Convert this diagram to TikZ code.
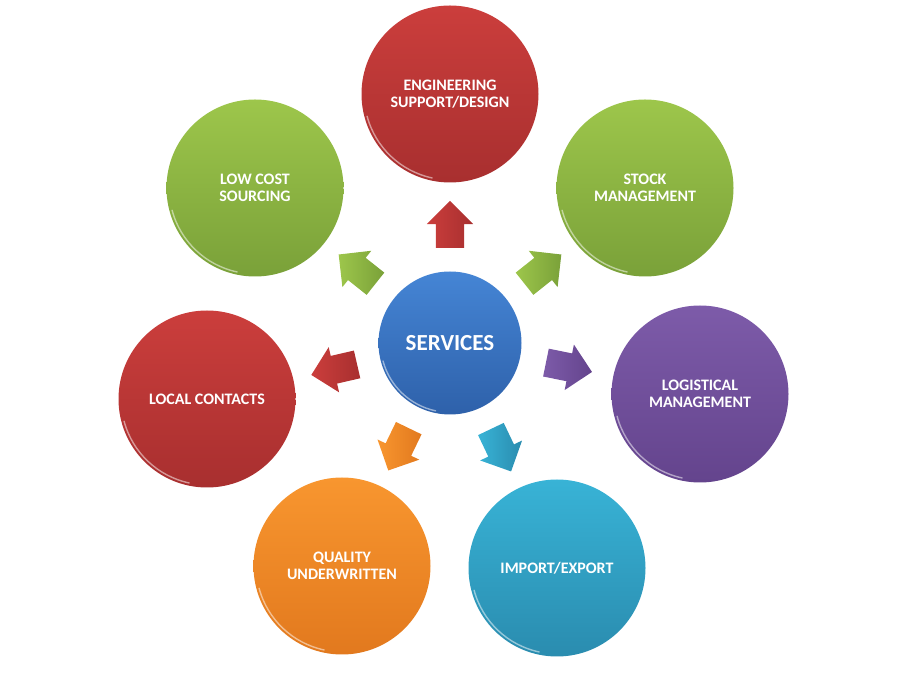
\documentclass[tikz,border=0pt]{standalone}
\usepackage{fontspec}
\setmainfont{Carlito}
\usetikzlibrary{shapes.arrows,calc}
\definecolor{redtop}{HTML}{CB3E3C}
\definecolor{redbot}{HTML}{A82F2F}
\definecolor{greentop}{HTML}{9DC64B}
\definecolor{greenbot}{HTML}{7AA139}
\definecolor{purptop}{HTML}{7D5BA9}
\definecolor{purpbot}{HTML}{64448D}
\definecolor{cyantop}{HTML}{38B3D6}
\definecolor{cyanbot}{HTML}{2A8CAF}
\definecolor{orgtop}{HTML}{F8962F}
\definecolor{orgbot}{HTML}{E2791E}
\definecolor{bluetop}{HTML}{4585D5}
\definecolor{bluebot}{HTML}{2E61AA}

\begin{document}
\begin{tikzpicture}[
  x=1pt,
  y=1pt,
  every node/.style={font=\bfseries\fontsize{16}{17.5}\selectfont},
  bubble/.style 2 args={circle, inner sep=0pt, minimum size=177pt,
    top color=#1, bottom color=#2, text=white, align=center,
    path picture={
      \draw[white, opacity=0.5, line width=1.4pt, line cap=round]
        ($(path picture bounding box.center)+(195:0.485*\pgfkeysvalueof{/pgf/minimum width})$)
        arc (195:258:0.485*\pgfkeysvalueof{/pgf/minimum width});
    }},
  pointer/.style 2 args={single arrow, single arrow head extend=9pt,
    single arrow head indent=0pt, minimum height=47pt,
    inner xsep=0pt, inner ysep=14pt, sloped, allow upside down, pos=0.45,
    left color=#1, right color=#2}
]
  \useasboundingbox (0,0) rectangle (900,680);

  % centre
  \node[bubble={bluetop}{bluebot}, minimum size=143pt,
    font=\bfseries\fontsize{23}{26}\selectfont] (srv) at (450,337) {SERVICES};

  % services around
  \node[bubble={redtop}{redbot}]       (eng)   at (450,586) {ENGINEERING\\SUPPORT/DESIGN};
  \node[bubble={greentop}{greenbot}]   (stock) at (645,492) {STOCK\\MANAGEMENT};
  \node[bubble={purptop}{purpbot}]     (logi)  at (700,286) {LOGISTICAL\\MANAGEMENT};
  \node[bubble={cyantop}{cyanbot}]     (impex) at (557,112) {IMPORT/EXPORT};
  \node[bubble={orgtop}{orgbot}]       (qual)  at (342,114) {QUALITY\\UNDERWRITTEN};
  \node[bubble={redtop}{redbot}]       (local) at (207,281) {LOCAL CONTACTS};
  \node[bubble={greentop}{greenbot}]   (low)   at (255,492) {LOW COST\\SOURCING};

  % arrows
  \path (srv) -- (eng)   node[pointer={redtop}{redbot}] (a1) {};
  \path (srv) -- (stock) node[pointer={greentop}{greenbot}] (a2) {};
  \path (srv) -- (logi)  node[pointer={purptop}{purpbot}] (a3) {};
  \path (srv) -- (impex) node[pointer={cyantop}{cyanbot}] (a4) {};
  \path (srv) -- (qual)  node[pointer={orgtop}{orgbot}] (a5) {};
  \path (srv) -- (local) node[pointer={redtop}{redbot}] (a6) {};
  \path (srv) -- (low)   node[pointer={greentop}{greenbot}] (a7) {};
\end{tikzpicture}
\end{document}
